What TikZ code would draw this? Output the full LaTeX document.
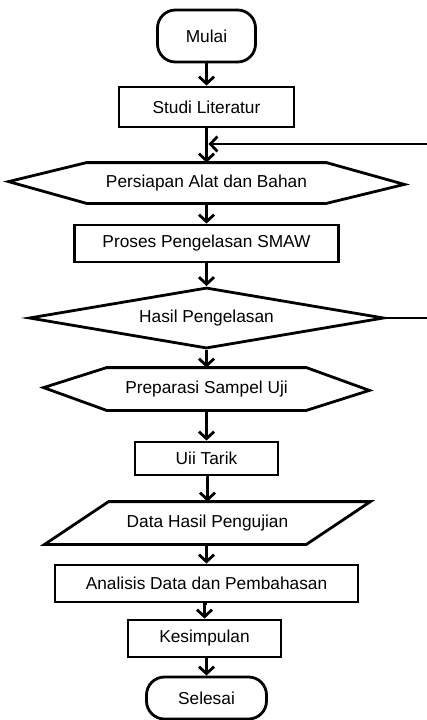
\documentclass[tikz,border=0pt]{standalone}
\usepackage{fontspec}
\setmainfont{Liberation Sans}
\usetikzlibrary{positioning}
\usetikzlibrary{arrows.meta,shapes}
\usetikzlibrary{calc}

\begin{document}
\begin{tikzpicture}[x=1pt, y=-1pt, line width=2.8pt, font=\fontsize{17.3}{20}\selectfont,
  kotak/.style={draw, rectangle, inner sep=0pt},
  ujung/.style={draw, rectangle, rounded corners=18pt, inner sep=0pt},
  polos/.style={rectangle, inner sep=0pt},
  pilih/.style={draw, diamond, aspect=5.8, inner sep=0pt},
  panah/.style={-{Straight Barb[length=7pt,width=15pt]}}]
  \useasboundingbox (0,0) rectangle (427,720);
  \clip (0,0) rectangle (427,720);
  \def\cx{206.5};

 %start
  \node[ujung, minimum width=98pt, minimum height=52pt] (mulai) at (\cx,36) {Mulai};
  \node[kotak, minimum width=175pt, minimum height=40pt] (studi) at (\cx,107) {Studi Literatur};

 %hexagon 1
  \def\d{78};
  \node[polos, minimum width=237pt, minimum height=38pt] (persiapan) at (\cx,183) {Persiapan Alat dan Bahan};
  \draw (persiapan.north west) -- ++(-\d,19) -- (persiapan.south west) -- (persiapan.south east)
        -- ++(\d,-19) -- (persiapan.north east) -- cycle;

  \node[kotak, minimum width=264pt, minimum height=37pt] (proses) at (\cx,243.5) {Proses Pengelasan SMAW};
  \node[pilih, minimum width=355pt, minimum height=61pt] (hasil) at (\cx,318) {\raisebox{-3pt}{Hasil Pengelasan}};

 %hexagon 2
  \def\d{63};
  \node[polos, minimum width=197pt, minimum height=40pt] (preparasi) at (\cx,389) {Preparasi Sampel Uji};
  \draw (preparasi.north west) -- ++(-\d,20) -- (preparasi.south west) -- (preparasi.south east)
        -- ++(\d,-20) -- (preparasi.north east) -- cycle;

  \node[kotak, minimum width=143pt, minimum height=33pt] (uji) at (\cx,458.5) {Uii Tarik};

 %data
  \def\d{64};
  \node[polos, minimum width=195pt, minimum height=40pt] (data) at (\cx+1,523) {Data Hasil Pengujian};
  \draw (data.north west) -- ($(data.north east)+(\d,0)$) -- (data.south east)
        -- ($(data.south west)-(\d,0)$) -- cycle;

  \node[kotak, minimum width=303pt, minimum height=37pt] (analisis) at (\cx,583.5) {Analisis Data dan Pembahasan};
  \node[kotak, minimum width=153pt, minimum height=37pt] (kesimpulan) at (\cx-2,638.5) {Kesimpulan};
  \node[ujung, minimum width=120pt, minimum height=42pt] (selesai) at (\cx,698) {Selesai};

 %arrows
  \foreach \a/\b in {mulai/studi, persiapan/proses, proses/hasil, hasil/preparasi, preparasi/uji,
                     uji/data, data/analisis, analisis/kesimpulan, kesimpulan/selesai} {
      \draw[panah] (\a.south) -- (\a.south -| \b.north) -- (\b.north);
  }
  \draw[panah] (studi.south) -- (persiapan.north);

 %loop back
  \coordinate (balik) at (\cx+2,144);
  \draw[panah] (hasil.east) -- (445,318) |- (balik);
\end{tikzpicture}
\end{document}
